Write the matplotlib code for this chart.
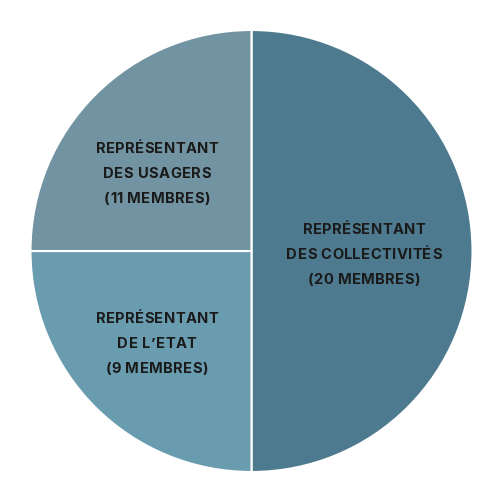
import matplotlib
matplotlib.use("Agg")
import matplotlib.pyplot as plt
from matplotlib.font_manager import FontProperties

categories = ["Représentant des collectivités", "Représentant de l'Etat", "Représentant des usagers"]
shares = [50, 25, 25]
labels = ["REPRÉSENTANT\nDES COLLECTIVITÉS\n(20 MEMBRES)",
          "REPRÉSENTANT\nDE L\u2019ETAT\n(9 MEMBRES)",
          "REPRÉSENTANT\nDES USAGERS\n(11 MEMBRES)"]
colors = ["#4d7a8e", "#6a9cb0", "#7293a1"]
# baseline of the middle text line, in data units
label_pos = [(0.509, -0.035), (-0.428, -0.440), (-0.428, 0.329)]

fig = plt.figure(figsize=(5, 5), dpi=100)
ax = fig.add_axes([0, 0, 1, 1])
ax.pie(shares, colors=colors, startangle=90, counterclock=False, radius=1,
       wedgeprops=dict(edgecolor="white", linewidth=1.5))
lim = 250 / 221
ax.set_xlim(-lim - 1.5 / 221, lim - 1.5 / 221)
ax.set_ylim(-lim + 1 / 221, lim + 1 / 221)
ax.set_aspect("equal")
ax.axis("off")

fp = FontProperties(family="Inter", weight="bold", size=10.6)
tracking = 0.4  # px between letters
line_gap = 25   # px between baselines
renderer = fig.canvas.get_renderer()


def char_w(c):
    if c == " ":
        w, _, _ = renderer.get_text_width_height_descent("a a", fp, ismath=False)
        w2, _, _ = renderer.get_text_width_height_descent("aa", fp, ismath=False)
        return w - w2
    w, _, _ = renderer.get_text_width_height_descent(c, fp, ismath=False)
    return w


for (x, y), t in zip(label_pos, labels):
    cx, cy = ax.transData.transform((x, y))
    lines = t.split("\n")
    n = len(lines)
    for i, line in enumerate(lines):
        ly = cy + ((n - 1) / 2 - i) * line_gap
        widths = [char_w(c) for c in line]
        total = sum(widths) + tracking * (len(line) - 1)
        px = cx - total / 2
        for c, w in zip(line, widths):
            if c != " ":
                fig.text(px / 100, ly / 100, c, fontproperties=fp, ha="left",
                         va="baseline", color="#1a1a1a", transform=fig.dpi_scale_trans)
            px += w + tracking

fig.savefig("out.png", dpi=100)
